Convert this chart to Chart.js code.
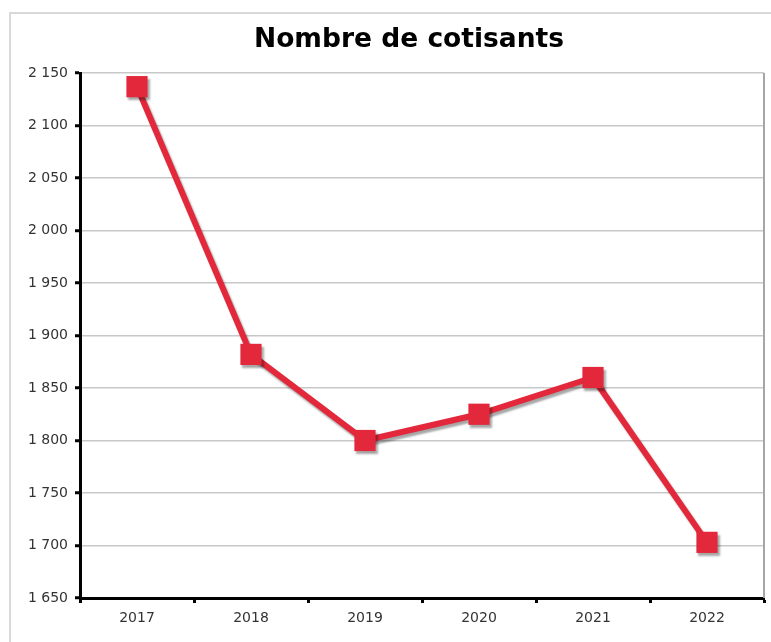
<!DOCTYPE html>
<html>
<head>
<meta charset="utf-8">
<script src="https://cdn.jsdelivr.net/npm/chart.js@4"></script>
<style>
    html, body { margin: 0; padding: 0; background: #fff; overflow: hidden; }
    #zone { position: relative; width: 771px; height: 642px; overflow: hidden; }
    #cadre { position: absolute; left: 9px; top: 12px; width: 800px; height: 700px; border: 2px solid #d9d9d9; }
    #graphe { position: absolute; left: 0; top: 0; width: 771px; height: 642px; }
</style>
</head>
<body>
<div id="zone">
    <div id="cadre"></div>
    <div id="graphe"><canvas id="cotisantsChart"></canvas></div>
</div>
<script>
// données
const titre = 'Nombre de cotisants';
const annees = ['2017', '2018', '2019', '2020', '2021', '2022'];
const cotisants = [2137, 1882, 1800, 1825, 1860, 1703];
const yMin = 1650;
const yMax = 2150;
const yPas = 50;

// format français : 2 150
function formatNombre(v) {
    return String(v).replace(/\B(?=(\d{3})+(?!\d))/g, ' ');
}

// ombre portée sous la courbe
const ombrePlugin = {
    id: 'ombre',
    beforeDatasetsDraw: function(chart) {
        const ctx = chart.ctx;
        ctx.save();
        ctx.shadowColor = 'rgba(0, 0, 0, 0.35)';
        ctx.shadowOffsetX = 2;
        ctx.shadowOffsetY = 3;
        ctx.shadowBlur = 2;
    },
    afterDatasetsDraw: function(chart) {
        chart.ctx.restore();
    }
};

// bordure droite grise de la zone de tracé + titre
const bordurePlugin = {
    id: 'bordure',
    beforeDatasetsDraw: function(chart) {
        const a = chart.chartArea;
        const ctx = chart.ctx;
        ctx.save();
        ctx.strokeStyle = '#a6a6a6';
        ctx.lineWidth = 2;
        ctx.beginPath();
        ctx.moveTo(a.right, a.top);
        ctx.lineTo(a.right, a.bottom);
        ctx.stroke();
        ctx.restore();
    },
    afterDraw: function(chart) {
        const ctx = chart.ctx;
        ctx.save();
        ctx.fillStyle = '#000';
        ctx.font = 'bold 26.5px "DejaVu Sans"';
        ctx.textAlign = 'center';
        ctx.textBaseline = 'middle';
        ctx.fillText(titre, 409, 40);
        ctx.restore();
    }
};

const chart = new Chart(document.getElementById('cotisantsChart').getContext('2d'), {
    type: 'line',
    data: {
        labels: annees,
        datasets: [{
            label: titre,
            data: cotisants,
            borderColor: '#e2283a',
            backgroundColor: '#e2283a',
            borderWidth: 6,
            pointStyle: 'rect',
            pointRadius: 15,
            pointBorderWidth: 0,
            pointBackgroundColor: '#e2283a',
            tension: 0
        }]
    },
    options: {
        responsive: true,
        maintainAspectRatio: false,
        animation: false,
        layout: {
            autoPadding: false,
            padding: { left: 0, right: 7, top: 73, bottom: 0 }
        },
        plugins: {
            legend: { display: false },
            tooltip: { enabled: false },
            title: { display: false }
        },
        scales: {
            x: {
                offset: true,
                grid: {
                    offset: true,
                    drawOnChartArea: false,
                    drawTicks: true,
                    tickLength: 5,
                    tickColor: '#000',
                    tickWidth: 3
                },
                border: { color: '#000', width: 3 },
                ticks: {
                    color: '#333',
                    padding: 7,
                    maxRotation: 0,
                    font: { family: 'DejaVu Sans', size: 14 }
                },
                afterFit: function(scale) { scale.height = 44; }
            },
            y: {
                min: yMin,
                max: yMax,
                grid: {
                    color: '#c8c8c8',
                    lineWidth: 1.5,
                    tickLength: 5,
                    tickColor: '#000',
                    tickWidth: 3
                },
                border: { color: '#000', width: 3 },
                ticks: {
                    stepSize: yPas,
                    color: '#333',
                    padding: 7,
                    font: { family: 'DejaVu Sans', size: 14 },
                    callback: function(v) { return formatNombre(v); }
                },
                afterFit: function(scale) { scale.width = 80; }
            }
        }
    },
    plugins: [bordurePlugin, ombrePlugin]
});
</script>
</body>
</html>
